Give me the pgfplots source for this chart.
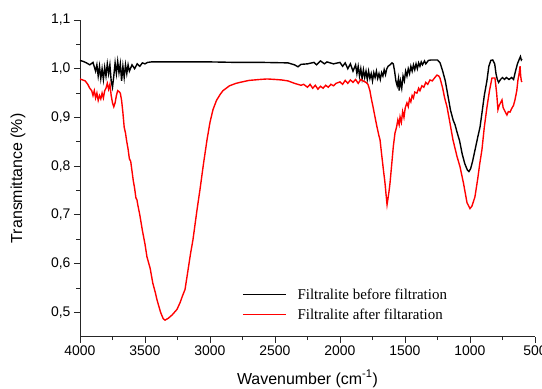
\documentclass[border=0pt]{standalone}
\usepackage{fontspec}
\setmainfont{Liberation Sans}
\newfontfamily\timesfont{Liberation Serif}
\usepackage{pgfplots}
\pgfplotsset{compat=1.18}
\begin{document}
\begin{tikzpicture}
\begin{axis}[
  at={(0,0)}, anchor=south west,
  width=455bp, height=316.7bp, scale only axis,
  x dir=reverse, xmin=500, xmax=4000, ymin=0.45, ymax=1.1,
  axis lines*=left,
  xtick={500,1000,1500,2000,2500,3000,3500,4000},
  ytick={0.5,0.6,0.7,0.8,0.9,1.0,1.1},
  minor x tick num=1, minor y tick num=1,
  tick align=outside, major tick length=6bp, minor tick length=3.5bp,
  tick style={line width=0.8pt, black!85},
  axis line style={line width=0.8pt, black!85},
  /pgf/number format/assume math mode=true,
  ticklabel style={font=\fontsize{14}{16}\selectfont},
  xticklabel style={/pgf/number format/1000 sep={}},
  yticklabel style={/pgf/number format/.cd, fixed, fixed zerofill, precision=1, use comma},
  xlabel={Wavenumber (cm\textsuperscript{-1})},
  ylabel={Transmittance (\%)},
  label style={font=\fontsize{16}{18}\selectfont},
  xlabel style={at={(axis description cs:0.5,0)}, anchor=center, yshift=-42bp},
  ylabel style={at={(axis description cs:-0.1363,0.5)}, anchor=center},
  legend cell align=left,
  legend image code/.code={\draw[#1] (0bp,0bp) -- (43bp,0bp); \path (52bp,0bp);},
  legend style={at={(0.356,0.0)}, anchor=south west, draw=none, fill=none,
    inner sep=0pt, row sep=4bp, yshift=14bp,
    font=\timesfont\fontsize{15}{17}\selectfont},
]
\addplot[black, line width=1.4pt] coordinates {
(4000,1.017)(3975,1.015)(3950,1.012)(3925,1.008)(3900,1.013)(3880,0.995)(3870,1.008)(3860,0.985)
(3850,1.005)(3840,0.980)(3830,1.000)(3820,0.978)(3810,1.003)(3800,0.985)(3790,1.010)(3780,0.990)
(3770,1.008)(3760,0.975)(3750,0.962)(3740,0.985)(3730,1.012)(3720,0.990)(3710,1.015)(3700,0.992)
(3690,1.010)(3680,0.975)(3670,1.005)(3660,0.982)(3650,1.008)(3640,0.990)(3630,1.008)(3620,0.995)
(3600,1.008)(3580,1.000)(3560,1.010)(3540,1.005)(3520,1.012)(3500,1.010)(3480,1.013)(3450,1.014)
(3300,1.014)(3000,1.014)(2800,1.013)(2600,1.013)(2400,1.012)(2350,1.008)(2323,1.004)(2300,1.009)
(2250,1.010)(2200,1.013)(2180,1.008)(2150,1.016)(2120,1.010)(2100,1.014)(2050,1.010)(2000,1.013)
(1980,1.005)(1960,1.012)(1940,1.000)(1920,1.010)(1900,0.995)(1880,1.008)(1870,0.990)(1860,1.005)
(1850,0.985)(1840,1.000)(1830,0.980)(1820,0.998)(1810,0.982)(1800,0.995)(1790,0.978)(1780,0.995)
(1770,0.980)(1760,0.990)(1750,0.975)(1740,0.992)(1730,0.982)(1720,0.995)(1710,0.980)(1700,0.990)
(1690,0.978)(1680,0.992)(1670,0.985)(1660,0.998)(1650,0.988)(1640,1.000)(1630,1.005)(1615,1.008)
(1600,1.012)(1590,1.010)(1580,0.995)(1570,0.975)(1560,0.965)(1550,0.980)(1545,0.955)(1535,0.975)
(1525,0.960)(1515,0.985)(1505,0.975)(1495,0.995)(1485,0.985)(1475,1.000)(1465,0.990)(1455,1.005)
(1445,0.995)(1435,1.008)(1425,0.998)(1415,1.010)(1405,1.000)(1395,1.012)(1385,1.005)(1375,1.014)
(1365,1.008)(1350,1.016)(1340,1.010)(1320,1.017)(1300,1.018)(1280,1.018)(1250,1.018)(1230,1.012)
(1210,0.995)(1190,0.975)(1170,0.945)(1150,0.915)(1130,0.895)(1115,0.885)(1100,0.870)(1080,0.852)
(1060,0.825)(1040,0.805)(1020,0.792)(1008,0.789)(995,0.795)(980,0.810)(960,0.835)(940,0.860)
(923,0.880)(905,0.915)(890,0.945)(870,0.975)(855,1.005)(840,1.017)(825,1.018)(810,1.010)
(800,0.990)(790,0.978)(780,0.972)(765,0.978)(750,0.982)(735,0.978)(720,0.982)(700,0.978)
(680,0.982)(665,0.978)(650,0.995)(635,1.010)(620,1.020)(612,1.025)(605,1.018)(600,1.020)
};
\addlegendentry{Filtralite before filtration}
\addplot[red, line width=1.4pt] coordinates {
(4000,0.979)(3980,0.977)(3960,0.975)(3940,0.968)(3925,0.960)(3910,0.955)(3900,0.945)(3890,0.955)
(3880,0.940)(3870,0.950)(3860,0.935)(3850,0.945)(3840,0.938)(3830,0.950)(3820,0.940)(3810,0.955)
(3800,0.960)(3790,0.970)(3780,0.958)(3770,0.968)(3760,0.945)(3750,0.930)(3740,0.922)(3730,0.930)
(3720,0.945)(3710,0.955)(3700,0.953)(3690,0.950)(3680,0.935)(3670,0.910)(3660,0.880)(3650,0.868)
(3640,0.850)(3630,0.835)(3620,0.815)(3610,0.810)(3600,0.790)(3590,0.770)(3580,0.755)(3570,0.735)
(3562,0.731)(3555,0.720)(3540,0.700)(3520,0.668)(3500,0.640)(3485,0.614)(3460,0.590)(3440,0.560)
(3420,0.540)(3408,0.526)(3380,0.500)(3360,0.487)(3346,0.484)(3320,0.488)(3290,0.495)(3254,0.506)
(3230,0.520)(3210,0.535)(3192,0.547)(3170,0.585)(3150,0.620)(3131,0.649)(3100,0.710)(3077,0.752)
(3050,0.805)(3023,0.854)(3000,0.890)(2977,0.916)(2950,0.935)(2920,0.948)(2900,0.955)(2850,0.965)
(2800,0.970)(2769,0.972)(2700,0.976)(2615,0.978)(2560,0.979)(2500,0.978)(2450,0.977)(2400,0.975)
(2350,0.970)(2300,0.966)(2280,0.968)(2250,0.962)(2230,0.968)(2210,0.960)(2190,0.966)(2170,0.958)
(2150,0.964)(2130,0.960)(2110,0.966)(2090,0.962)(2070,0.968)(2050,0.965)(2030,0.970)(2000,0.973)
(1980,0.968)(1960,0.976)(1940,0.970)(1920,0.977)(1900,0.972)(1880,0.978)(1860,0.970)(1840,0.978)
(1823,0.975)(1800,0.972)(1785,0.968)(1770,0.955)(1760,0.940)(1746,0.922)(1730,0.900)(1715,0.880)
(1700,0.862)(1692,0.854)(1680,0.825)(1665,0.790)(1654,0.766)(1645,0.740)(1638,0.721)(1630,0.735)
(1622,0.750)(1615,0.766)(1600,0.810)(1590,0.840)(1577,0.868)(1565,0.880)(1555,0.895)(1545,0.885)
(1538,0.901)(1528,0.890)(1518,0.912)(1508,0.900)(1498,0.920)(1485,0.930)(1475,0.922)(1465,0.938)
(1455,0.932)(1445,0.945)(1435,0.940)(1425,0.952)(1408,0.950)(1395,0.960)(1385,0.955)(1370,0.965)
(1355,0.962)(1340,0.972)(1325,0.968)(1308,0.977)(1290,0.975)(1270,0.982)(1254,0.987)(1240,0.985)
(1231,0.981)(1210,0.960)(1195,0.940)(1177,0.922)(1155,0.890)(1131,0.854)(1100,0.820)(1077,0.799)
(1050,0.765)(1023,0.725)(1000,0.713)(985,0.718)(962,0.737)(940,0.775)(925,0.805)(908,0.834)
(890,0.880)(869,0.922)(850,0.955)(831,0.981)(808,0.981)(795,0.950)(785,0.916)(775,0.925)
(765,0.930)(754,0.936)(745,0.920)(730,0.912)(716,0.905)(705,0.912)(692,0.911)(680,0.918)
(665,0.925)(654,0.936)(640,0.955)(631,0.977)(622,0.990)(615,1.005)(610,0.985)(605,0.975)(600,0.973)
};
\addlegendentry{Filtralite after filtaration}
\end{axis}
\pgfresetboundingbox
\path[use as bounding box] (-80bp,-52.3bp) rectangle (462bp,336.7bp);
\end{tikzpicture}
\end{document}
